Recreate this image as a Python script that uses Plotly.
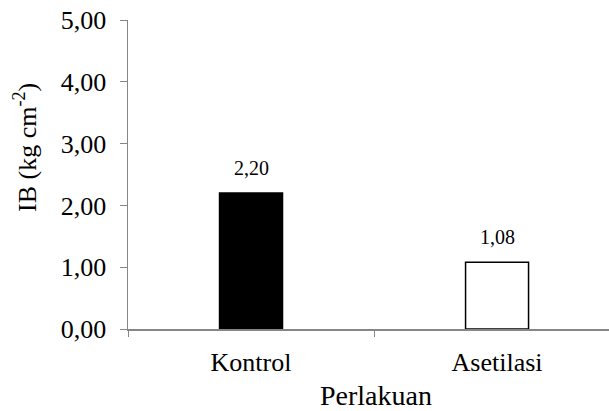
import plotly.graph_objects as go

categories = ["Kontrol", "Asetilasi"]
values = [2.20, 1.08]
labels = ["2,20", "1,08"]
tick_vals = [0, 1, 2, 3, 4, 5]
tick_text = ["0,00", "1,00", "2,00", "3,00", "4,00", "5,00"]

FONT = "Liberation Serif, Times New Roman, serif"
AXIS = "#868686"

fig = go.Figure()
fig.add_trace(go.Bar(
    x=categories, y=values,
    marker=dict(color=["#000000", "#ffffff"], line=dict(color="#000000", width=1.5)),
    width=0.256, hoverinfo="skip",
))
for c, v, t in zip(categories, values, labels):
    fig.add_annotation(
        x=c, y=v, text=t, showarrow=False, xanchor="center", yanchor="bottom",
        yshift=12, font=dict(family=FONT, size=20, color="#000000"),
    )
fig.update_layout(
    width=609, height=411,
    margin=dict(l=128, r=0, t=20, b=82),
    paper_bgcolor="white", plot_bgcolor="white",
    showlegend=False,
    font=dict(family=FONT, color="#000000"),
)
fig.update_xaxes(
    range=[-0.5, 1.455], showline=True, linecolor=AXIS, linewidth=1.5,
    ticks="outside", tickson="boundaries", ticklen=6, tickcolor=AXIS,
    tickfont=dict(family=FONT, size=26), showgrid=False, ticklabelstandoff=9,
)
fig.update_yaxes(
    range=[0, 5], tickvals=tick_vals, ticktext=tick_text,
    showline=True, linecolor=AXIS, linewidth=1.5,
    ticks="outside", ticklen=7, tickcolor=AXIS,
    tickfont=dict(family=FONT, size=26), showgrid=False, zeroline=False,
    ticklabelstandoff=8,
)
fig.add_annotation(
    text="IB (kg cm<sup>-2</sup>)", textangle=-90,
    xref="paper", yref="paper", x=-0.212, y=0.586, xanchor="center", yanchor="middle",
    showarrow=False, font=dict(family=FONT, size=26, color="#000000"),
)
fig.add_annotation(
    text="Perlakuan",
    xref="paper", yref="paper", x=(375.5 - 128) / 481, y=-0.216, xanchor="center", yanchor="middle",
    showarrow=False, font=dict(family=FONT, size=28, color="#000000"),
)
fig.write_html(
    "out.html",
    config={"displayModeBar": False, "staticPlot": True},
    post_script="document.body.style.margin='0';document.body.style.overflow='hidden';",
)
